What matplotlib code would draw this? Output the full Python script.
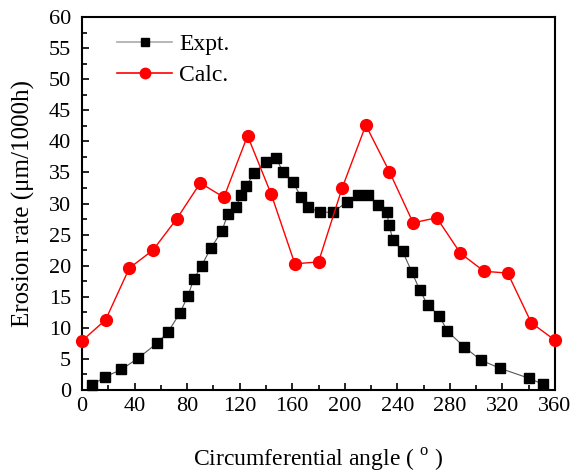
import matplotlib
matplotlib.use("Agg")
import matplotlib.pyplot as plt
from matplotlib.lines import Line2D
from matplotlib.ticker import MultipleLocator

plt.rcParams['font.family'] = ['Liberation Serif', 'DejaVu Serif']
plt.rcParams['mathtext.fontset'] = 'custom'
plt.rcParams['mathtext.rm'] = 'Liberation Serif'

# experimental data (squares)
expt_x = [7.6, 17.5, 30, 42.6, 57, 65.4, 74.6, 80.7, 85, 91, 98, 106.5, 111, 117,
          121, 125, 131, 140, 147.6, 153, 160.5, 167, 172, 181, 191, 202, 210,
          217.6, 225, 232, 233.6, 236.7, 244, 251, 257, 263, 272, 278, 291,
          303.6, 318, 340, 351]
expt_y = [0.8, 2.1, 3.3, 5.1, 7.5, 9.3, 12.4, 15.2, 17.8, 20.0, 22.8, 25.6, 28.3,
          29.4, 31.3, 32.8, 34.9, 36.7, 37.3, 35.1, 33.4, 31.0, 29.4, 28.6, 28.6,
          30.3, 31.4, 31.4, 29.8, 28.6, 26.6, 24.1, 22.3, 19.0, 16.1, 13.7, 11.9,
          9.5, 6.9, 4.8, 3.5, 1.9, 0.9]

# calculated data (circles)
calc_x = [0, 18, 36, 54, 72, 90, 108, 126, 144, 162, 180, 198, 216, 234, 252,
          270, 288, 306, 324, 342, 360]
calc_y = [7.9, 11.3, 19.6, 22.5, 27.5, 33.3, 31.0, 40.9, 31.5, 20.3, 20.6, 32.5,
          42.6, 35.1, 26.9, 27.7, 22.0, 19.1, 18.8, 10.8, 8.0]

fig = plt.figure(figsize=(5.71, 4.73), dpi=100)
ax = fig.add_axes([0.1436, 0.1755, 0.8284, 0.7885])

ax.plot(expt_x, expt_y, color='#555555', lw=0.8, marker='s', ms=7.5,
        mfc='black', mec='black', clip_on=False, zorder=3)
ax.plot(calc_x, calc_y, color='red', lw=1.0, marker='o', ms=8.5,
        mfc='red', mec='red', clip_on=False, zorder=3)

ax.set_xlim(0, 360)
ax.set_ylim(0, 60)
ax.xaxis.set_major_locator(MultipleLocator(40))
ax.xaxis.set_minor_locator(MultipleLocator(20))
ax.yaxis.set_major_locator(MultipleLocator(5))
ax.yaxis.set_minor_locator(MultipleLocator(2.5))
ax.tick_params(which='both', direction='in', top=False, right=False,
               labelsize=16, width=1.2)
ax.tick_params(axis='x', pad=5)
ax.tick_params(axis='y', pad=8)
ax.tick_params(which='major', length=5)
ax.tick_params(which='minor', length=3.5)
for s in ax.spines.values():
    s.set_linewidth(1.5)

ax.set_xlabel('Circumferential angle ( $^{\\rm o}$ )', fontsize=17, labelpad=22)
ax.set_ylabel('Erosion rate (μm/1000h)', fontsize=18, labelpad=10)

handles = [
    Line2D([], [], color='#aaaaaa', lw=1.2, marker='s', ms=5.5, mfc='black', mec='black'),
    Line2D([], [], color='red', lw=1.2, marker='o', ms=7.5, mfc='red', mec='red'),
]
ax.legend(handles, ['Expt.', 'Calc.'], loc='upper left', frameon=False,
          fontsize=17, handlelength=2.3, handletextpad=0.3, labelspacing=0.4,
          borderaxespad=0.0, borderpad=0.0, bbox_to_anchor=(0.075, 0.955))

fig.savefig('out.png', dpi=100)
